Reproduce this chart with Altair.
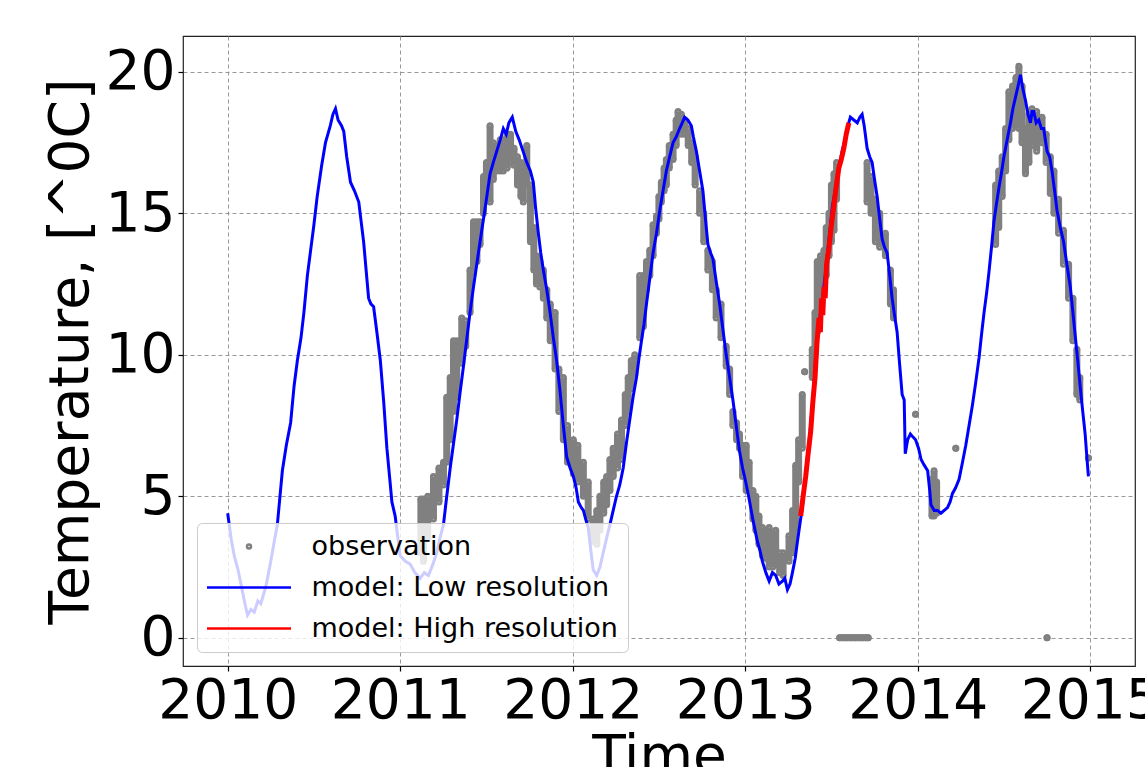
import altair as alt
import pandas as pd

SERIES = ["observation", "model: Low resolution", "model: High resolution"]
COLORS = ["#808080", "#0000ff", "#ff0000"]
FONT = "DejaVu Sans"

# ---- model, low resolution (decimal year, temperature) ----
low_year = [
    2010.000, 2010.020, 2010.038, 2010.060, 2010.077, 2010.100, 2010.115, 2010.135, 2010.154, 2010.175,
    2010.192, 2010.221, 2010.250, 2010.270, 2010.288, 2010.317, 2010.340, 2010.365, 2010.385, 2010.404,
    2010.425, 2010.442, 2010.462, 2010.481, 2010.500, 2010.519, 2010.545, 2010.567, 2010.595, 2010.610,
    2010.625, 2010.640, 2010.660, 2010.673, 2010.690, 2010.712, 2010.735, 2010.760, 2010.788, 2010.817,
    2010.830, 2010.846, 2010.865, 2010.885, 2010.905, 2010.923, 2010.940, 2010.952, 2010.971, 2010.985,
    2011.000, 2011.030, 2011.058, 2011.085, 2011.116, 2011.140, 2011.164, 2011.190, 2011.212, 2011.230,
    2011.251, 2011.270, 2011.290, 2011.310, 2011.328, 2011.348, 2011.367, 2011.385, 2011.405, 2011.425,
    2011.444, 2011.463, 2011.483, 2011.500, 2011.521, 2011.540, 2011.560, 2011.580, 2011.598, 2011.615,
    2011.630, 2011.650, 2011.670, 2011.690, 2011.712, 2011.734, 2011.755, 2011.772, 2011.785, 2011.801,
    2011.815, 2011.830, 2011.850, 2011.869, 2011.888, 2011.907, 2011.927, 2011.946, 2011.965, 2011.985,
    2012.004, 2012.020, 2012.033, 2012.050, 2012.062, 2012.075, 2012.090, 2012.105, 2012.119, 2012.139,
    2012.158, 2012.177, 2012.196, 2012.216, 2012.235, 2012.254, 2012.273, 2012.293, 2012.312, 2012.331,
    2012.350, 2012.370, 2012.385, 2012.399, 2012.414, 2012.428, 2012.447, 2012.466, 2012.486, 2012.505,
    2012.524, 2012.543, 2012.562, 2012.582, 2012.600, 2012.620, 2012.635, 2012.649, 2012.668, 2012.688,
    2012.700, 2012.717, 2012.736, 2012.755, 2012.770, 2012.784, 2012.800, 2012.813, 2012.832, 2012.852,
    2012.871, 2012.890, 2012.910, 2012.929, 2012.948, 2012.967, 2012.985, 2013.000, 2013.020, 2013.044,
    2013.071, 2013.085, 2013.100, 2013.120, 2013.139, 2013.158, 2013.177, 2013.196, 2013.216, 2013.230,
    2013.245, 2013.260, 2013.274, 2013.290, 2013.303, 2013.317, 2013.331, 2013.345, 2013.360, 2013.375,
    2013.389, 2013.405, 2013.418, 2013.433, 2013.447, 2013.462, 2013.476, 2013.490, 2013.505, 2013.524,
    2013.543, 2013.562, 2013.582, 2013.596, 2013.610, 2013.630, 2013.650, 2013.665, 2013.678, 2013.690,
    2013.707, 2013.722, 2013.736, 2013.750, 2013.765, 2013.780, 2013.794, 2013.808, 2013.823, 2013.838,
    2013.852, 2013.866, 2013.881, 2013.895, 2013.910, 2013.922, 2013.928, 2013.942, 2013.958, 2013.972,
    2013.988, 2014.005, 2014.020, 2014.038, 2014.058, 2014.070, 2014.077, 2014.096, 2014.115, 2014.135,
    2014.154, 2014.173, 2014.188, 2014.202, 2014.220, 2014.240, 2014.260, 2014.279, 2014.298, 2014.317,
    2014.336, 2014.356, 2014.370, 2014.385, 2014.400, 2014.413, 2014.428, 2014.442, 2014.456, 2014.471,
    2014.485, 2014.500, 2014.519, 2014.538, 2014.552, 2014.567, 2014.582, 2014.596, 2014.610, 2014.625,
    2014.640, 2014.654, 2014.663, 2014.673, 2014.687, 2014.702, 2014.717, 2014.731, 2014.740, 2014.750,
    2014.765, 2014.779, 2014.794, 2014.808, 2014.827, 2014.846, 2014.865, 2014.885, 2014.900, 2014.913,
    2014.928, 2014.942, 2014.957, 2014.971, 2014.982, 2014.990,
]
low_temp = [
    4.4, 3.5, 2.9, 2.4, 1.9, 1.2, 0.8, 1.0, 0.9, 1.3,
    1.2, 1.8, 2.7, 3.4, 4.0, 5.9, 6.8, 7.6, 8.9, 9.8,
    10.6, 11.5, 12.8, 13.7, 14.6, 15.6, 16.7, 17.5, 18.1, 18.5,
    18.7, 18.3, 18.1, 17.9, 17.0, 16.1, 15.8, 15.4, 14.0, 12.0,
    11.8, 11.7, 10.8, 9.8, 8.3, 6.7, 5.6, 4.8, 4.3, 3.6,
    2.9, 2.7, 2.6, 2.3, 2.1, 2.3, 2.2, 2.6, 3.0, 3.5,
    4.0, 5.0, 6.0, 6.9, 7.7, 8.7, 9.6, 10.5, 11.5, 12.4,
    13.2, 14.0, 14.8, 15.5, 16.4, 16.8, 17.2, 17.6, 18.0, 17.8,
    18.2, 18.4, 17.9, 17.6, 17.2, 16.8, 16.5, 16.1, 15.2, 14.3,
    13.6, 13.0, 12.3, 11.5, 10.6, 9.8, 8.7, 7.5, 6.4, 6.0,
    5.7, 5.3, 4.8, 4.6, 4.5, 4.2, 3.9, 3.1, 2.4, 2.2,
    2.5, 3.0, 3.5, 4.0, 4.5, 5.0, 5.4, 6.0, 6.9, 7.7,
    8.5, 9.2, 9.9, 10.5, 11.1, 11.8, 12.7, 13.6, 14.3, 15.1,
    15.8, 16.5, 17.0, 17.5, 17.7, 18.0, 18.2, 18.4, 18.3, 18.1,
    17.7, 17.2, 16.5, 15.8, 14.8, 13.9, 13.6, 13.4, 12.6, 11.8,
    10.9, 10.0, 9.2, 8.4, 7.5, 6.6, 6.0, 5.6, 5.0, 4.2,
    3.4, 3.1, 2.7, 2.3, 2.0, 2.3, 2.2, 1.9, 2.0, 2.1,
    1.7, 1.9, 2.3, 2.8, 3.4, 4.0, 4.6, 5.4, 6.3, 7.2,
    8.2, 9.5, 10.6, 11.3, 11.9, 12.7, 13.5, 14.3, 15.2, 15.9,
    16.6, 17.2, 17.7, 18.1, 18.4, 18.3, 18.2, 18.4, 18.5, 18.1,
    17.3, 17.0, 16.8, 16.2, 15.6, 14.8, 14.1, 13.8, 13.6, 12.8,
    12.0, 11.4, 10.8, 9.7, 8.6, 8.4, 6.5, 7.0, 7.2, 7.1,
    7.0, 6.7, 6.3, 6.1, 5.9, 5.2, 4.7, 4.5, 4.5, 4.4,
    4.5, 4.6, 4.8, 5.1, 5.3, 5.6, 6.2, 6.8, 7.5, 8.2,
    9.0, 9.9, 10.7, 11.5, 12.2, 12.9, 13.8, 14.7, 15.3, 15.9,
    16.4, 17.0, 17.6, 18.2, 18.7, 19.1, 19.5, 19.9, 19.4, 19.0,
    18.5, 18.2, 18.6, 18.6, 18.2, 18.3, 18.0, 18.0, 17.6, 17.2,
    17.0, 16.5, 15.8, 15.1, 14.5, 14.0, 13.2, 12.4, 11.5, 10.7,
    9.8, 8.9, 8.0, 7.2, 6.3, 5.7,
]

# ---- model, high resolution ----
high_year = [
    2013.322, 2013.336, 2013.351, 2013.365, 2013.380, 2013.392, 2013.405, 2013.416, 2013.428, 2013.436,
    2013.443, 2013.450, 2013.457, 2013.464, 2013.472, 2013.486, 2013.500, 2013.515, 2013.529, 2013.543,
    2013.557, 2013.572, 2013.586, 2013.601,
]
high_temp = [
    4.3, 5.0, 5.7, 6.5, 7.3, 8.3, 9.2, 10.4, 11.3, 10.8,
    12.0, 11.4, 12.4, 12.0, 13.2, 13.8, 14.6, 15.3, 16.0, 16.6,
    16.9, 17.3, 17.8, 18.2,
]

# ---- observations: (decimal year, lowest, highest value seen around that date) ----
obs_year = [
    2011.120, 2011.135, 2011.160, 2011.193, 2011.225, 2011.251, 2011.270, 2011.290, 2011.309, 2011.328,
    2011.357, 2011.380, 2011.405, 2011.425, 2011.445, 2011.463, 2011.483, 2011.500, 2011.521, 2011.540,
    2011.560, 2011.580, 2011.598, 2011.620, 2011.640, 2011.660, 2011.680, 2011.700, 2011.714, 2011.734,
    2011.755, 2011.775, 2011.790, 2011.810, 2011.830, 2011.850, 2011.870, 2011.898, 2011.920, 2011.946,
    2011.970, 2012.004, 2012.030, 2012.062, 2012.090, 2012.119, 2012.140, 2012.158, 2012.180, 2012.197,
    2012.216, 2012.235, 2012.260, 2012.283, 2012.305, 2012.322, 2012.340, 2012.360, 2012.389, 2012.410,
    2012.428, 2012.447, 2012.466, 2012.486, 2012.500, 2012.514, 2012.530, 2012.543, 2012.560, 2012.582,
    2012.600, 2012.611, 2012.630, 2012.650, 2012.670, 2012.690, 2012.710, 2012.736, 2012.760, 2012.784,
    2012.810, 2012.832, 2012.860, 2012.890, 2012.910, 2012.929, 2012.950, 2012.967, 2012.985, 2013.006,
    2013.023, 2013.045, 2013.062, 2013.080, 2013.100, 2013.120, 2013.139, 2013.160, 2013.177, 2013.200,
    2013.220, 2013.254, 2013.275, 2013.293, 2013.310, 2013.331, 2013.345, 2013.389, 2013.405, 2013.418,
    2013.437, 2013.457, 2013.470, 2013.486, 2013.500, 2013.515, 2013.530,
    2013.548, 2013.563, 2013.578, 2013.593, 2013.608, 2013.623, 2013.638, 2013.653, 2013.668, 2013.683,
    2013.698, 2013.713,
    2013.707, 2013.730, 2013.755, 2013.780, 2013.813, 2013.842, 2013.860, 2013.988, 2014.083, 2014.095,
    2014.110, 2014.221, 2014.452, 2014.470, 2014.490, 2014.510, 2014.529, 2014.550, 2014.570, 2014.587,
    2014.605, 2014.625, 2014.645, 2014.663, 2014.690, 2014.721, 2014.745, 2014.750, 2014.769, 2014.790,
    2014.817, 2014.845, 2014.875, 2014.900, 2014.923, 2014.940, 2014.990,
]
obs_lo = [
    3.0, 2.7, 3.5, 4.2, 4.8, 5.4, 6.2, 7.0, 8.0, 8.5,
    9.7, 10.3, 11.5, 12.9, 13.3, 13.9, 15.0, 15.6, 15.4, 16.2,
    16.5, 16.5, 16.5, 16.6, 16.8, 16.7, 16.0, 15.6, 15.4, 16.0,
    14.0, 13.0, 12.5, 12.4, 12.0, 11.3, 10.5, 9.5, 8.0, 7.0,
    6.2, 5.8, 5.5, 5.0, 4.2, 3.4, 3.3, 3.8, 4.4, 4.7,
    5.2, 5.7, 6.0, 6.3, 7.5, 8.0, 8.8, 9.3, 10.6, 11.0,
    12.3, 12.8, 13.5, 14.3, 14.8, 15.4, 15.8, 16.0, 16.6, 16.9,
    17.4, 18.0, 17.8, 17.8, 17.4, 16.8, 16.0, 15.0, 14.0, 13.0,
    12.3, 11.3, 10.6, 9.6, 8.6, 7.5, 7.0, 6.7, 5.7, 5.2,
    5.2, 4.2, 3.8, 3.3, 2.9, 2.8, 2.5, 2.5, 2.6, 2.3,
    2.2, 2.7, 3.0, 3.6, 5.5, 6.7, 9.4, 9.2, 10.0, 10.8,
    11.5, 12.3, 12.8, 13.5, 14.0, 14.4, 15.5,
    0.0, 0.0, 0.0, 0.0, 0.0, 0.0, 0.0, 0.0, 0.0, 0.0,
    0.0, 0.0,
    15.4, 15.0, 14.0, 13.8, 13.5, 11.8, 11.3, 7.9, 4.3, 4.3,
    4.4, 6.7, 13.9, 14.5, 15.6, 16.5, 17.6, 18.0, 18.5, 18.0,
    17.5, 16.4, 16.8, 17.4, 17.2, 17.5, 16.8, 0.0, 15.7, 15.0,
    14.3, 13.2, 12.0, 10.5, 8.6, 8.4, 6.35,
]
obs_hi = [
    4.9, 4.9, 5.0, 5.7, 6.0, 6.2, 8.5, 9.2, 10.5, 10.5,
    11.3, 11.2, 13.0, 14.7, 14.7, 14.7, 16.3, 16.8, 18.1, 17.5,
    17.4, 17.6, 17.6, 17.8, 17.8, 17.3, 17.0, 16.8, 16.7, 17.4,
    16.0, 14.5, 13.5, 13.3, 13.0, 12.3, 11.8, 11.5, 9.5, 9.2,
    7.5, 7.0, 6.8, 6.2, 5.5, 4.2, 4.5, 5.0, 5.5, 5.7,
    6.3, 6.7, 7.2, 7.7, 8.6, 9.2, 9.8, 10.0, 12.8, 12.8,
    13.3, 13.7, 14.6, 14.9, 15.6, 16.1, 16.6, 16.9, 17.4, 17.8,
    18.3, 18.6, 18.5, 18.3, 18.0, 17.5, 17.0, 15.8, 15.0, 13.7,
    13.3, 12.3, 11.8, 10.3, 9.5, 8.0, 7.6, 7.2, 6.8, 6.8,
    6.2, 5.2, 5.0, 4.3, 3.9, 3.7, 3.9, 3.6, 3.8, 3.0,
    3.0, 3.6, 4.5, 6.1, 7.0, 8.6, 9.4, 10.2, 11.5, 13.3,
    13.5, 13.7, 14.5, 15.0, 16.0, 16.4, 16.8,
    0.0, 0.0, 0.0, 0.0, 0.0, 0.0, 0.0, 0.0, 0.0, 0.0,
    0.0, 0.0,
    16.8, 16.3, 15.5, 15.0, 14.3, 13.0, 12.3, 7.9, 5.6, 5.9,
    5.5, 6.7, 16.0, 16.5, 17.0, 18.0, 19.3, 19.5, 19.8, 20.2,
    19.5, 18.0, 18.5, 18.7, 18.6, 18.4, 17.8, 0.0, 17.0, 16.5,
    15.5, 14.4, 13.2, 12.0, 10.2, 9.2, 6.35,
]

x_ticks = [2010, 2011, 2012, 2013, 2014, 2015]
y_ticks = [0, 5, 10, 15, 20]

low_df = pd.DataFrame({"year": low_year, "temp": low_temp, "series": SERIES[1]})
high_df = pd.DataFrame({"year": high_year, "temp": high_temp, "series": SERIES[2]})
obs_df = pd.DataFrame({"year": obs_year, "lo": obs_lo, "hi": obs_hi, "series": SERIES[0]})
obs_pts = obs_df.melt(id_vars=["year", "series"], value_vars=["lo", "hi"], value_name="temp")

xscale = alt.Scale(domain=[2009.741, 2015.26], nice=False, zero=False)
yscale = alt.Scale(domain=[-1.0, 21.27], nice=False, zero=False)
xaxis = alt.Axis(title="Time", values=x_ticks, format="d")
yaxis = alt.Axis(title="Temperature, [^0C]", values=y_ticks, format="d")

x = alt.X("year:Q", scale=xscale, axis=xaxis)
y = alt.Y("temp:Q", scale=yscale, axis=yaxis)

color_scale = alt.Scale(domain=SERIES, range=COLORS)
# legend symbols: a small dot for the observations, a long horizontal stroke for the models
LINE_SYMBOL = "M-21,0H21"
shape_scale = alt.Scale(domain=SERIES, range=["circle", LINE_SYMBOL, LINE_SYMBOL])
legend = alt.Legend(title=None, orient="none", legendX=14, legendY=487)

obs_band = alt.Chart(obs_df).mark_rule(strokeWidth=7, color="#808080").encode(
    x=x,
    y=alt.Y("lo:Q", scale=yscale, axis=yaxis),
    y2="hi:Q",
)

obs_points = alt.Chart(obs_pts).mark_point(filled=False, strokeWidth=3, opacity=1, size=16).encode(
    x=x,
    y=y,
    color=alt.Color("series:N", scale=color_scale, legend=legend),
    shape=alt.Shape("series:N", scale=shape_scale, legend=legend),
)

low_line = alt.Chart(low_df).mark_line(strokeWidth=3).encode(
    x=x, y=y, color=alt.Color("series:N", scale=color_scale, legend=None)
)
high_line = alt.Chart(high_df).mark_line(strokeWidth=5).encode(
    x=x, y=y, color=alt.Color("series:N", scale=color_scale, legend=None)
)

chart = alt.layer(obs_band, obs_points, low_line, high_line).properties(
    width=952,
    height=630,
    padding={"left": 183, "top": 36, "right": 10, "bottom": 101},
    autosize=alt.AutoSizeParams(type="none"),
).configure_view(
    stroke="#222222", strokeWidth=1.2,
).configure_axis(
    labelFont=FONT, titleFont=FONT, labelFontSize=55, titleFontSize=55,
    labelColor="black", titleColor="black", titleFontWeight="normal",
    tickColor="black", tickSize=5, tickWidth=1.2, domain=False,
    grid=True, gridColor="#8c8c8c", gridDash=[4, 3], gridWidth=0.9,
    labelFlush=False, labelOverlap=False,
).configure_axisX(
    labelPadding=3, titlePadding=2,
).configure_axisY(
    labelPadding=3, titlePadding=6,
).configure_legend(
    labelFont=FONT, labelFontSize=27, labelColor="black", labelLimit=500,
    fillColor="rgba(255,255,255,0.8)", strokeColor="#cccccc", cornerRadius=5,
    padding=10, symbolStrokeWidth=2.5, symbolSize=16, symbolOffset=28.5,
    symbolFillColor="#808080",
    labelOffset=49, rowPadding=13, symbolOpacity=1,
)

chart.save("out.html", embed_options={"renderer": "svg", "actions": False})
